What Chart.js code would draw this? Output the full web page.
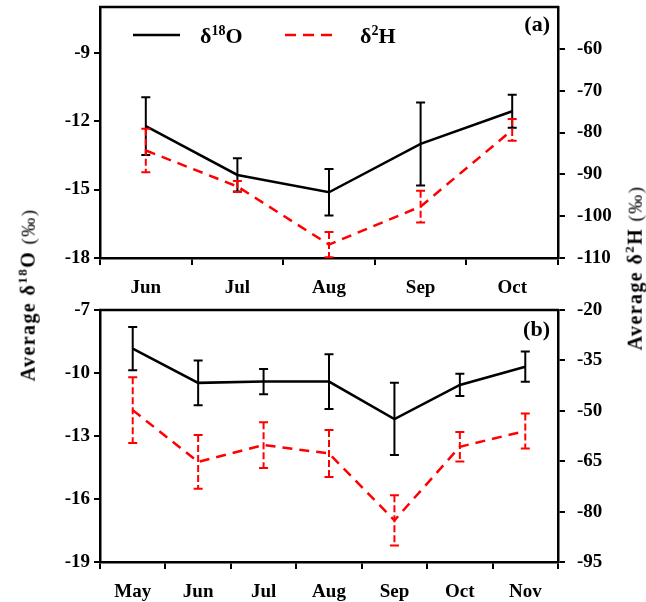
<!DOCTYPE html>
<html>
<head>
<meta charset="utf-8">
<script src="https://cdn.jsdelivr.net/npm/chart.js@4.4.0/dist/chart.umd.min.js"></script>
<style>
  html, body { margin: 0; padding: 0; background: #fff; }
  #fig { position: relative; width: 646px; height: 602px; font-family: 'Liberation Serif', 'Times New Roman', serif; }
  #fig canvas { position: absolute; left: 0; }
  .ytitle { position: absolute; font-weight: bold; font-size: 20px; letter-spacing: 1.4px; white-space: nowrap; color: #000;
            transform: translate(-50%, -50%) rotate(-90deg); }
  .ytitle sup { font-size: 13px; }
  .ytitle .unit { font-weight: normal; font-size: 19px; }
</style>
</head>
<body>
<div id="fig">
  <canvas id="chartA" width="646" height="300" style="top:0"></canvas>
  <canvas id="chartB" width="646" height="302" style="top:300px"></canvas>
  <div class="ytitle" style="left:27px; top:295px">Average δ<sup>18</sup>O <span class="unit">(‰)</span></div>
  <div class="ytitle" style="left:634px; top:268px">Average δ<sup>2</sup>H <span class="unit">(‰)</span></div>
</div>
<script>
// panel (a)
const monthsA = ['Jun', 'Jul', 'Aug', 'Sep', 'Oct'];
const o18A = [-12.22, -14.36, -15.12, -13.0, -11.57];
const o18ErrA = [1.27, 0.73, 1.02, 1.82, 0.72];
const h2A = [-84.3, -92.9, -106.8, -97.7, -79.4];
const h2ErrA = [5.2, 1.3, 3.0, 3.8, 2.6];
const o18TicksA = [-18, -15, -12, -9];
const h2TicksA = [-110, -100, -90, -80, -70, -60];

// panel (b)
const monthsB = ['May', 'Jun', 'Jul', 'Aug', 'Sep', 'Oct', 'Nov'];
const o18B = [-8.84, -10.47, -10.41, -10.41, -12.19, -10.57, -9.70];
const o18ErrB = [1.03, 1.07, 0.6, 1.3, 1.72, 0.53, 0.72];
const h2B = [-49.8, -65.2, -60.2, -62.7, -82.6, -60.7, -56.0];
const h2ErrB = [9.8, 8.0, 6.8, 7.0, 7.5, 4.4, 5.2];
const o18TicksB = [-19, -16, -13, -10, -7];
const h2TicksB = [-95, -80, -65, -50, -35, -20];

const FONT = "'Liberation Serif', 'Times New Roman', serif";
const tickFont = { family: FONT, size: 19, weight: 'bold' };

// error bars, frame top line, legend and panel letter
const decor = {
  id: 'decor',
  afterDatasetsDraw(chart, args, opts) {
    const ctx = chart.ctx;
    const xs = chart.scales.x;
    chart.data.datasets.forEach((ds, di) => {
      const ys = chart.scales[ds.yAxisID];
      ctx.save();
      ctx.strokeStyle = ds.borderColor;
      ctx.lineWidth = 2;
      ds.data.forEach((v, i) => {
        const x = xs.getPixelForValue(i);
        const yt = ys.getPixelForValue(v + ds.err[i]);
        const yb = ys.getPixelForValue(v - ds.err[i]);
        ctx.setLineDash(ds.errDash);
        ctx.beginPath(); ctx.moveTo(x, yt); ctx.lineTo(x, yb); ctx.stroke();
        ctx.setLineDash([]);
        ctx.beginPath();
        ctx.moveTo(x - 4.5, yt); ctx.lineTo(x + 4.5, yt);
        ctx.moveTo(x - 4.5, yb); ctx.lineTo(x + 4.5, yb);
        ctx.stroke();
      });
      ctx.restore();
    });
  },
  afterDraw(chart, args, opts) {
    const ctx = chart.ctx;
    const a = chart.chartArea;
    ctx.save();
    ctx.strokeStyle = '#000';
    ctx.lineWidth = 2.5;
    ctx.beginPath(); ctx.moveTo(a.left - 1, a.top); ctx.lineTo(a.right + 1, a.top); ctx.stroke();

    ctx.fillStyle = '#000';
    ctx.textBaseline = 'middle';
    ctx.textAlign = 'right';
    ctx.font = 'bold 22px ' + FONT;
    ctx.fillText(opts.label, a.right - 8, a.top + opts.labelY);

    if (opts.legend) {
      const ly = 35;
      ctx.lineWidth = 2.5;
      ctx.beginPath(); ctx.moveTo(133, ly); ctx.lineTo(180, ly); ctx.stroke();
      ctx.strokeStyle = '#ff0000';
      ctx.setLineDash([11, 7]);
      ctx.beginPath(); ctx.moveTo(285, ly); ctx.lineTo(337, ly); ctx.stroke();
      ctx.setLineDash([]);
      const parts = (x, list) => {
        ctx.textAlign = 'left';
        ctx.textBaseline = 'alphabetic';
        list.forEach(([t, sup]) => {
          ctx.font = 'bold ' + (sup ? 14 : 22) + 'px ' + FONT;
          ctx.fillText(t, x, sup ? ly : ly + 8);
          x += ctx.measureText(t).width;
        });
      };
      parts(200, [['δ', false], ['18', true], ['O', false]]);
      parts(360, [['δ', false], ['2', true], ['H', false]]);
    }
    ctx.restore();
  }
};

function makeChart(id, months, o18, o18Err, h2, h2Err, o18Ticks, h2Ticks, yRange, y1Range, pad, xH, label, labelY, legend) {
  return new Chart(document.getElementById(id), {
    type: 'line',
    data: {
      labels: months,
      datasets: [
        {
          label: 'δ18O', data: o18, err: o18Err, errDash: [],
          yAxisID: 'y', borderColor: '#000', borderWidth: 2.5,
          pointRadius: 0, tension: 0
        },
        {
          label: 'δ2H', data: h2, err: h2Err, errDash: [7, 3],
          yAxisID: 'y1', borderColor: '#ff0000', borderWidth: 2.5, borderDash: [10, 7],
          pointRadius: 0, tension: 0
        }
      ]
    },
    options: {
      responsive: false,
      animation: false,
      layout: { padding: { top: pad, left: 0, right: 0, bottom: 0 } },
      plugins: {
        legend: { display: false },
        tooltip: { enabled: false },
        decor: { label: label, labelY: labelY, legend: legend }
      },
      scales: {
        x: {
          type: 'category', offset: true,
          grid: { offset: true, drawOnChartArea: false, drawTicks: true, tickLength: 7, color: '#000', lineWidth: 2 },
          border: { display: true, color: '#000', width: 2.5 },
          ticks: { color: '#000', font: tickFont, padding: 12, maxRotation: 0, autoSkip: false },
          afterFit: s => { s.height = xH; s.paddingLeft = 0; s.paddingRight = 0; }
        },
        y: {
          position: 'left', min: yRange[0], max: yRange[1],
          afterBuildTicks: s => { s.ticks = o18Ticks.map(v => ({ value: v })); },
          grid: { drawOnChartArea: false, tickLength: 6, color: '#000', lineWidth: 2 },
          border: { color: '#000', width: 2.5 },
          ticks: { color: '#000', font: tickFont, padding: 4 },
          afterFit: s => { s.width = 100; s.paddingTop = 0; s.paddingBottom = 0; }
        },
        y1: {
          position: 'right', min: y1Range[0], max: y1Range[1],
          afterBuildTicks: s => { s.ticks = h2Ticks.map(v => ({ value: v })); },
          grid: { drawOnChartArea: false, tickLength: 7, color: '#000', lineWidth: 2 },
          border: { color: '#000', width: 2.5 },
          ticks: { color: '#000', font: tickFont, padding: 12 },
          afterFit: s => { s.width = 88; s.paddingTop = 0; s.paddingBottom = 0; }
        }
      }
    },
    plugins: [decor]
  });
}

makeChart('chartA', monthsA, o18A, o18ErrA, h2A, h2ErrA, o18TicksA, h2TicksA,
  [-18, -7], [-110, -50], 7, 42, '(a)', 18, true);
makeChart('chartB', monthsB, o18B, o18ErrB, h2B, h2ErrB, o18TicksB, h2TicksB,
  [-19, -7], [-95, -20], 10, 40, '(b)', 20, false);
</script>
</body>
</html>
